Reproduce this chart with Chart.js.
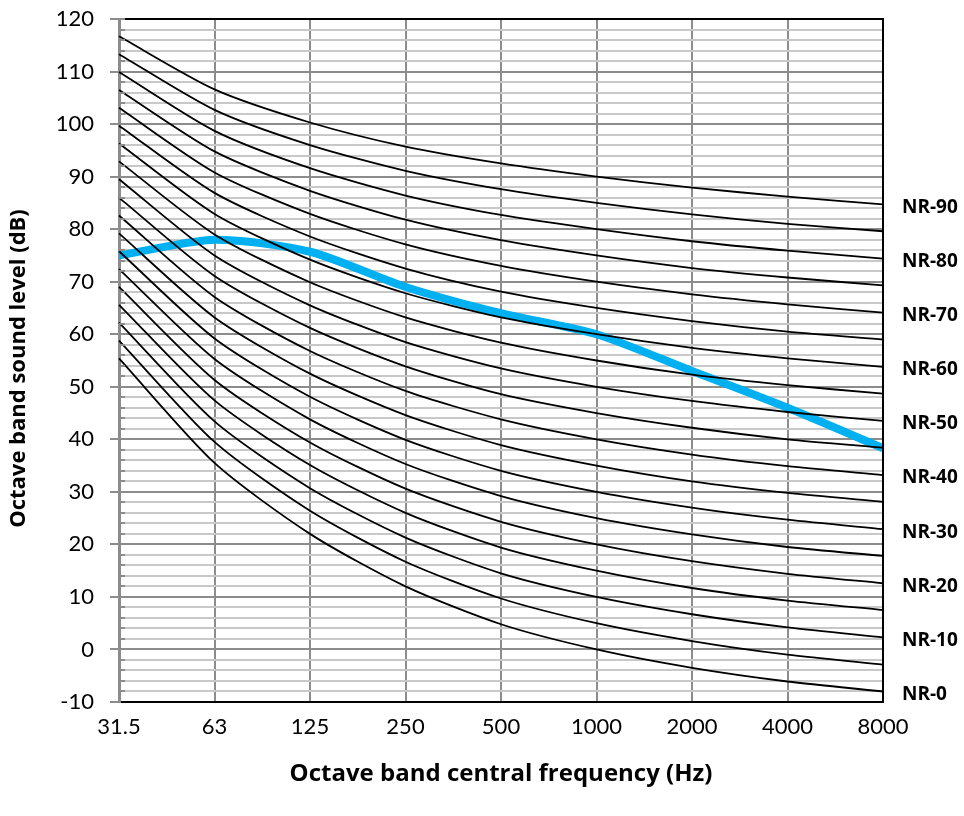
<!DOCTYPE html>
<html>
<head>
<meta charset="utf-8">
<script src="https://cdn.jsdelivr.net/npm/chart.js@4/dist/chart.umd.min.js"></script>
<style>
html,body{margin:0;padding:0;background:#fff;}
#wrap{width:964px;height:816px;}
</style>
</head>
<body>
<div id="wrap"><canvas id="c" width="964" height="816"></canvas></div>
<script>
const frequencies = ['31.5','63','125','250','500','1000','2000','4000','8000'];

const nr0  = [55.4, 35.5, 22.0, 12.0,  4.8,  0, -3.5, -6.1, -8.0];
const nr5  = [58.8, 39.5, 26.4, 16.7,  9.7,  5,  1.6, -1.0, -2.9];
const nr10 = [62.2, 43.4, 30.7, 21.3, 14.5, 10,  6.7,  4.2,  2.3];
const nr15 = [65.6, 47.4, 35.1, 26.0, 19.4, 15, 11.7,  9.3,  7.5];
const nr20 = [69.0, 51.3, 39.4, 30.6, 24.3, 20, 16.8, 14.4, 12.6];
const nr25 = [72.4, 55.3, 43.8, 35.3, 29.2, 25, 21.9, 19.5, 17.8];
const nr30 = [75.8, 59.2, 48.1, 39.9, 34.0, 30, 27.0, 24.7, 22.9];
const nr35 = [79.2, 63.2, 52.5, 44.6, 38.9, 35, 32.0, 29.8, 28.1];
const nr40 = [82.6, 67.1, 56.8, 49.2, 43.8, 40, 37.1, 34.9, 33.2];
const nr45 = [86.0, 71.1, 61.2, 53.9, 48.6, 45, 42.2, 40.0, 38.4];
const nr50 = [89.5, 75.0, 65.5, 58.5, 53.5, 50, 47.3, 45.2, 43.5];
const nr55 = [92.9, 79.0, 69.9, 63.2, 58.4, 55, 52.3, 50.3, 48.7];
const nr60 = [96.3, 82.9, 74.2, 67.8, 63.2, 60, 57.4, 55.4, 53.8];
const nr65 = [99.7, 86.9, 78.6, 72.5, 68.1, 65, 62.5, 60.5, 59.0];
const nr70 = [103.1, 90.8, 82.9, 77.1, 73.0, 70, 67.6, 65.7, 64.1];
const nr75 = [106.5, 94.8, 87.3, 81.8, 77.9, 75, 72.6, 70.8, 69.3];
const nr80 = [109.9, 98.7, 91.6, 86.4, 82.7, 80, 77.7, 75.9, 74.4];
const nr85 = [113.3, 102.7, 96.0, 91.1, 87.6, 85, 82.8, 81.0, 79.6];
const nr90 = [116.7, 106.6, 100.3, 95.7, 92.5, 90, 87.9, 86.2, 84.7];

const measured = [75, 78, 75.7, 69, 64, 60, 53, 46, 38.3];

const nrCurves = [nr0, nr5, nr10, nr15, nr20, nr25, nr30, nr35, nr40, nr45,
                  nr50, nr55, nr60, nr65, nr70, nr75, nr80, nr85, nr90];
const nrNames = ['NR-0','NR-5','NR-10','NR-15','NR-20','NR-25','NR-30','NR-35','NR-40','NR-45',
                 'NR-50','NR-55','NR-60','NR-65','NR-70','NR-75','NR-80','NR-85','NR-90'];
const labelledCurves = ['NR-0','NR-10','NR-20','NR-30','NR-40','NR-50','NR-60','NR-70','NR-80','NR-90'];

const yTitle = 'Octave band sound level (dB)';
const xTitle = 'Octave band central frequency (Hz)';

const yMin = -10, yMax = 120, yStep = 2, yLabelStep = 10;

const FONT = 'Lato, "Open Sans", sans-serif';
const BFONT = '"Open Sans", Lato, sans-serif';

const datasets = nrCurves.map((d, i) => ({
  label: nrNames[i],
  data: d,
  borderColor: '#000000',
  borderWidth: 1.8,
  pointRadius: 0,
  tension: 0.25,
  fill: false
}));
datasets.push({
  label: 'Measured',
  data: measured,
  borderColor: '#00B0F0',
  borderWidth: 8,
  pointRadius: 0,
  tension: 0.25,
  fill: false
});

const framePlugin = {
  id: 'frame',
  afterDraw(chart) {
    const {ctx, chartArea: a, scales} = chart;
    const y = scales.y;
    ctx.save();
    ctx.strokeStyle = '#8c8c8c';
    ctx.lineWidth = 2;
    for (let v = yMin; v <= yMax; v += yStep) {
      if (v % yLabelStep === 0) continue;
      const py = Math.round(y.getPixelForValue(v));
      ctx.beginPath();
      ctx.moveTo(a.left, py);
      ctx.lineTo(a.left + 6, py);
      ctx.stroke();
    }
    ctx.strokeStyle = '#000000';
    ctx.lineWidth = 2;
    ctx.beginPath();
    ctx.moveTo(a.left + 6, a.top);
    ctx.lineTo(a.right, a.top);
    ctx.lineTo(a.right, a.bottom);
    ctx.lineTo(a.left + 6, a.bottom);
    ctx.stroke();
    ctx.fillStyle = '#000000';
    ctx.font = 'bold 19px ' + BFONT;
    ctx.textAlign = 'left';
    ctx.textBaseline = 'middle';
    labelledCurves.forEach(name => {
      const idx = nrNames.indexOf(name);
      const d = nrCurves[idx];
      const py = y.getPixelForValue(d[d.length - 1]) + 3;
      ctx.fillText(name, a.right + 19, py);
    });
    // y axis title
    ctx.save();
    ctx.translate(19, (a.top + a.bottom) / 2 + 8);
    ctx.rotate(-Math.PI / 2);
    ctx.textAlign = 'center';
    ctx.textBaseline = 'middle';
    ctx.font = 'bold 22px ' + BFONT;
    ctx.fillText(yTitle, 0, 0);
    ctx.restore();
    ctx.restore();
  }
};

new Chart(document.getElementById('c'), {
  type: 'line',
  data: { labels: frequencies, datasets },
  options: {
    responsive: false,
    animation: false,
    layout: { padding: { left: 0, top: 19, right: 81, bottom: 0 } },
    plugins: { legend: { display: false }, tooltip: { enabled: false } },
    scales: {
      x: {
        type: 'category',
        offset: false,
        afterFit(s) { s.height = 114; s.paddingLeft = 0; s.paddingRight = 0; },
        grid: { color: '#8c8c8c', lineWidth: 2, drawTicks: false, offset: false },
        border: { color: '#000000', width: 2 },
        ticks: { color: '#000', font: { family: FONT, size: 22 }, padding: 12, maxRotation: 0, autoSkip: false },
        title: { display: true, text: xTitle, color: '#000',
                 font: { family: BFONT, size: 24, weight: 'bold' }, padding: { top: 0, bottom: 27 } }
      },
      y: {
        min: yMin, max: yMax,
        afterFit(s) { s.width = 119; s.paddingTop = 0; s.paddingBottom = 0; },
        afterBuildTicks(s) {
          const t = [];
          for (let v = yMin; v <= yMax; v += yStep) t.push({ value: v });
          s.ticks = t;
        },
        grid: {
          color: c => (c.tick && c.tick.value % yLabelStep === 0) ? '#8c8c8c' : '#c8c8c8',
          tickColor: c => (c.tick && c.tick.value % yLabelStep === 0) ? '#8c8c8c' : 'rgba(0,0,0,0)',
          lineWidth: 2,
          tickLength: 9
        },
        border: { color: '#8c8c8c', width: 3 },
        ticks: {
          color: '#000', font: { family: FONT, size: 22 }, padding: 16, autoSkip: false,
          callback: v => (v % yLabelStep === 0) ? String(v) : ''
        },
        title: { display: false }
      }
    }
  },
  plugins: [framePlugin]
});
</script>
</body>
</html>
